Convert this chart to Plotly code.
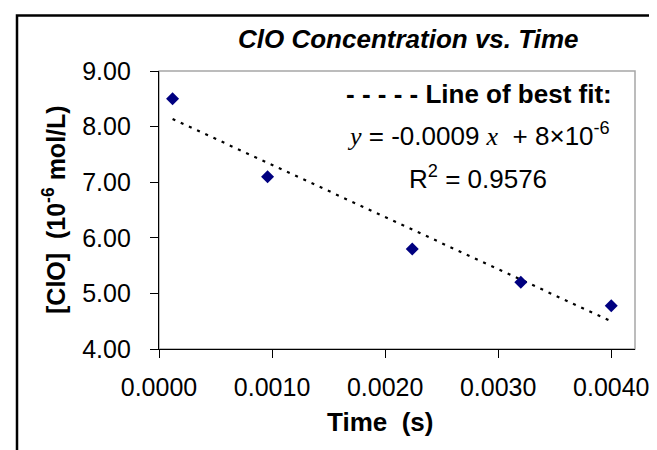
import numpy as np
import plotly.graph_objects as go

# ---- data ----
times = [0.00012, 0.00096, 0.00224, 0.00320, 0.00400]      # s
conc = [8.50, 7.10, 5.80, 5.20, 4.78]                       # 10^-6 mol/L
x_ticks = [0.0, 0.001, 0.002, 0.003, 0.004]
y_ticks = [4, 5, 6, 7, 8, 9]
title_text = "<b><i>ClO Concentration vs. Time</i></b>"
x_title = "<b>Time&nbsp;&nbsp;(s)</b>"
y_title = "<b>[ClO]&nbsp;&nbsp;(10<sup>-6</sup> mol/L)</b>"
fit_label = "<b>- - - - - Line of best fit:</b>"
eq_label = ('<span style="font-family:Liberation Serif"><i>y</i></span> = -0.0009 '
            '<span style="font-family:Liberation Serif"><i>x</i></span>&nbsp; + 8×10<sup>-6</sup>')
r2_label = "R<sup>2</sup> = 0.9576"

# least-squares trend line computed from the data
slope, intercept = np.polyfit(times, conc, 1)
fit_x = [min(times), max(times)]
fit_y = [slope * v + intercept for v in fit_x]

W, H = 657, 450
L, R, T, B = 151, 30, 63, 109
PW, PH = W - L - R, H - T - B


def px(x):
    return (x - L) / PW


def py(y):
    return (H - B - y) / PH


SANS = "Liberation Sans"

fig = go.Figure()
fig.add_trace(go.Scatter(x=fit_x, y=fit_y, mode="lines",
                         line=dict(color="black", width=2.2, dash="3px,6px"),
                         hoverinfo="skip", showlegend=False))
fig.add_trace(go.Scatter(x=times, y=conc, mode="markers",
                         marker=dict(symbol="diamond", size=10, color="#000080"),
                         showlegend=False))

fig.update_layout(
    width=W, height=H,
    margin=dict(l=L, r=R, t=T, b=B),
    paper_bgcolor="white", plot_bgcolor="white",
    font=dict(family=SANS, color="black", size=25),
    xaxis=dict(range=[0, 0.00421], tickvals=x_ticks, tickformat=".4f",
               showgrid=False, zeroline=False, showline=True, linecolor="black",
               linewidth=1.2, ticks="outside", ticklen=8, tickcolor="black",
               tickwidth=1.2, tickfont=dict(size=25, family=SANS),
               ticklabelstandoff=8),
    yaxis=dict(range=[4, 9], tickvals=y_ticks, tickformat=".2f",
               showgrid=False, zeroline=False, showline=True, linecolor="black",
               linewidth=1.2, ticks="outside", ticklen=8, tickcolor="black",
               tickwidth=1.2, tickfont=dict(size=25, family=SANS),
               ticklabelstandoff=14),
    shapes=[
        # gray plot-area frame
        dict(type="rect", xref="paper", yref="paper", x0=0, y0=0, x1=1, y1=1,
             line=dict(color="#a6a6a6", width=1.5), layer="below"),
        # outer chart border
        dict(type="rect", xref="paper", yref="paper",
             x0=px(9), y0=py(470), x1=px(680), y1=py(7.5),
             line=dict(color="black", width=2.5)),
    ],
    annotations=[
        dict(text=title_text, x=px(400), y=py(31), xref="paper", yref="paper",
             showarrow=False, xanchor="center", yanchor="middle",
             font=dict(size=26, family=SANS)),
        dict(text=x_title, x=px(372), y=py(414), xref="paper", yref="paper",
             showarrow=False, xanchor="center", yanchor="middle",
             font=dict(size=26, family=SANS)),
        dict(text=y_title, x=px(46), y=py(202), xref="paper", yref="paper",
             showarrow=False, xanchor="center", yanchor="middle", textangle=-90,
             font=dict(size=25, family=SANS)),
        dict(text=fit_label, x=px(471), y=py(86), xref="paper", yref="paper",
             showarrow=False, xanchor="center", yanchor="middle",
             font=dict(size=26, family=SANS)),
        dict(text=eq_label, x=px(470), y=py(126), xref="paper", yref="paper",
             showarrow=False, xanchor="center", yanchor="middle",
             font=dict(size=26, family=SANS)),
        dict(text=r2_label, x=px(470), y=py(169), xref="paper", yref="paper",
             showarrow=False, xanchor="center", yanchor="middle",
             font=dict(size=26, family=SANS)),
    ],
)

fig.write_html("out.html")
